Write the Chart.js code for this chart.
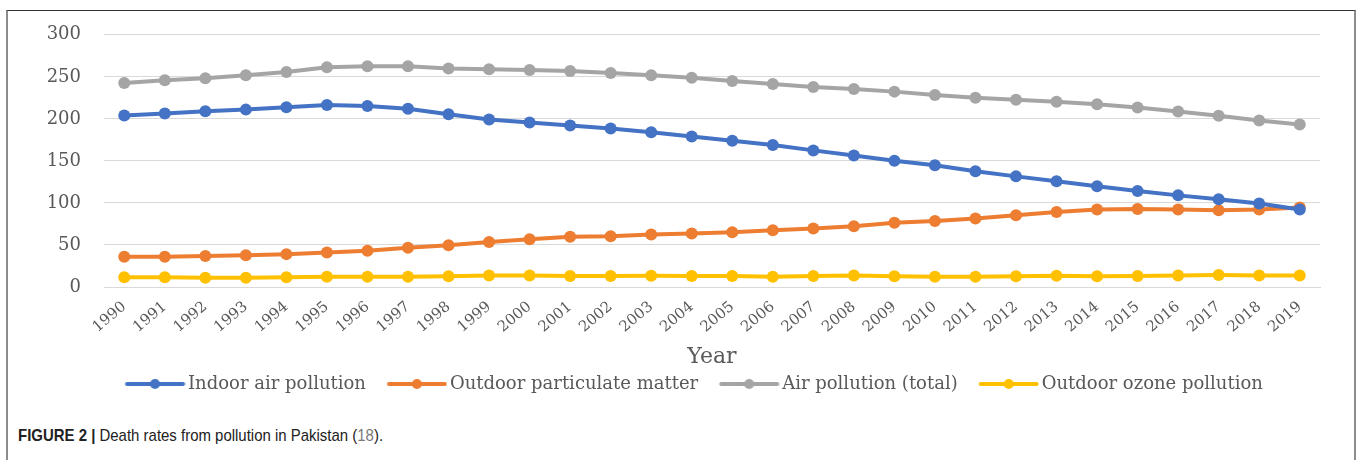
<!DOCTYPE html>
<html>
<head>
<meta charset="utf-8">
<script src="https://cdn.jsdelivr.net/npm/chart.js@4.4.1/dist/chart.umd.min.js"></script>
<style>
  body { margin: 0; background: #fff; width: 1358px; height: 460px; overflow: hidden; position: relative; }
  #frame { position: absolute; left: 6px; top: 10px; width: 1346px; height: 460px;
           border-top: 1px solid #333; border-left: 2px solid #8c8c8c; border-right: 2px solid #8c8c8c; }
  #chartBox { position: absolute; left: 8px; top: 1px; width: 1347px; height: 402px; }
  #caption { position: absolute; left: 18px; top: 426px; font-family: "Liberation Sans Narrow", "Liberation Sans", sans-serif;
             font-size: 17px; color: #222; white-space: nowrap; transform: scaleX(0.88); transform-origin: left top; }
  #caption b { font-weight: bold; }
  #caption .ref { color: #7a7a7a; }
</style>
</head>
<body>
<div id="frame"></div>
<div id="chartBox"><canvas id="pollutionChart"></canvas></div>
<div id="caption"><b>FIGURE 2 |</b> Death rates from pollution in Pakistan (<span class="ref">18</span>).</div>

<script>
const years = ["1990", "1991", "1992", "1993", "1994", "1995", "1996", "1997", "1998", "1999",
  "2000", "2001", "2002", "2003", "2004", "2005", "2006", "2007", "2008", "2009",
  "2010", "2011", "2012", "2013", "2014", "2015", "2016", "2017", "2018", "2019"];

const indoorAir = [204, 206.3, 209, 211, 213.8, 216.6, 215.4, 211.9, 205.5, 199.2,
  195.7, 192, 188.5, 184.2, 179, 174, 168.8, 162.5, 156.5, 150.2,
  144.7, 137.6, 131.6, 125.7, 119.8, 114.2, 109, 104.3, 99.2, 92.1];

const outdoorParticulate = [36, 36, 36.8, 37.9, 39.1, 41.1, 43.1, 46.6, 49.8, 53.4,
  56.9, 59.7, 60.5, 62.5, 63.7, 65.2, 67.6, 69.6, 72.3, 76.3,
  78.6, 81.5, 85.4, 89.3, 92.1, 92.9, 92.1, 91.3, 92.1, 94.5];

const airTotal = [242.7, 245.9, 248.3, 251.8, 255.8, 261.3, 262.5, 262.5, 260, 259,
  258, 257, 254.6, 252, 249, 245, 241.5, 238, 235.6, 232.4,
  228.5, 225, 222.6, 220.5, 217.4, 213.4, 208.7, 203.6, 198, 193.3];

const outdoorOzone = [11.5, 11.5, 11.1, 11.1, 11.5, 12.3, 12.3, 12.3, 12.7, 13.8,
  13.8, 13, 13, 13.4, 13, 13, 12.3, 13, 13.8, 12.7,
  12.3, 12.3, 12.7, 13.4, 12.7, 13, 13.8, 14.2, 13.8, 13.8];

const yTicks = [0, 50, 100, 150, 200, 250, 300];

const seriesNames = ["Indoor air pollution", "Outdoor particulate matter", "Air pollution (total)", "Outdoor ozone pollution"];
const seriesColors = ["#4472C4", "#ED7D31", "#A5A5A5", "#FFC000"];

Chart.defaults.font.family = "'DejaVu Serif', 'Liberation Serif', serif";
Chart.defaults.color = "#595959";

// little line-with-dot picture used as legend symbol
function legendMarker(color) {
  const c = document.createElement("canvas");
  c.width = 80;
  c.height = 14;
  const g = c.getContext("2d");
  g.strokeStyle = color;
  g.lineWidth = 4;
  g.lineCap = "round";
  g.beginPath();
  g.moveTo(21.5, 7);
  g.lineTo(77.5, 7);
  g.stroke();
  g.fillStyle = color;
  g.beginPath();
  g.arc(49.5, 7, 5, 0, Math.PI * 2);
  g.fill();
  return c;
}
const markers = seriesColors.map(legendMarker);

function makeSeries(label, values, color) {
  return {
    label: label,
    data: values,
    borderColor: color,
    backgroundColor: color,
    borderWidth: 4,
    pointRadius: 6,
    pointHoverRadius: 6,
    pointBackgroundColor: color,
    pointBorderColor: color,
    pointBorderWidth: 0,
    tension: 0,
    fill: false
  };
}

const ctx = document.getElementById("pollutionChart").getContext("2d");
const pollutionChart = new Chart(ctx, {
  type: "line",
  data: {
    labels: years,
    datasets: [
      makeSeries(seriesNames[0], indoorAir, seriesColors[0]),
      makeSeries(seriesNames[1], outdoorParticulate, seriesColors[1]),
      makeSeries(seriesNames[2], airTotal, seriesColors[2]),
      makeSeries(seriesNames[3], outdoorOzone, seriesColors[3])
    ]
  },
  options: {
    responsive: true,
    maintainAspectRatio: false,
    animation: false,
    layout: { padding: { top: 11, right: 35, left: 0, bottom: 0 } },
    plugins: {
      tooltip: { enabled: false },
      legend: {
        position: "bottom",
        fullSize: false,
        align: "start",
        labels: {
          usePointStyle: true,
          pointStyleWidth: 67,
          padding: 8,
          color: "#595959",
          font: { size: 18 },
          generateLabels: chart => chart.data.datasets.map((ds, i) => ({
            text: ds.label,
            pointStyle: markers[i],
            fillStyle: ds.borderColor,
            strokeStyle: "transparent",
            lineWidth: 0,
            fontColor: "#595959",
            hidden: false,
            datasetIndex: i
          }))
        }
      }
    },
    scales: {
      x: {
        offset: true,
        grid: { display: false, drawTicks: false },
        border: { display: true, color: "#D9D9D9", width: 1 },
        ticks: {
          autoSkip: false,
          minRotation: 40,
          maxRotation: 40,
          padding: 11,
          color: "#595959",
          font: { size: 15 }
        },
        title: {
          display: true,
          text: "Year",
          color: "#595959",
          font: { size: 22, lineHeight: 0.9 },
          padding: { top: 0, bottom: 0 }
        },
        afterFit: axis => { axis.height = 80; }
      },
      y: {
        min: 0,
        max: 300,
        afterBuildTicks: axis => { axis.ticks = yTicks.map(v => ({ value: v })); },
        grid: { color: "#D9D9D9", lineWidth: 1, drawTicks: false },
        border: { display: false },
        ticks: {
          padding: 23,
          color: "#595959",
          font: { size: 18 }
        },
        afterFit: axis => { axis.width = 96; }
      }
    }
  }
});
</script>
</body>
</html>
